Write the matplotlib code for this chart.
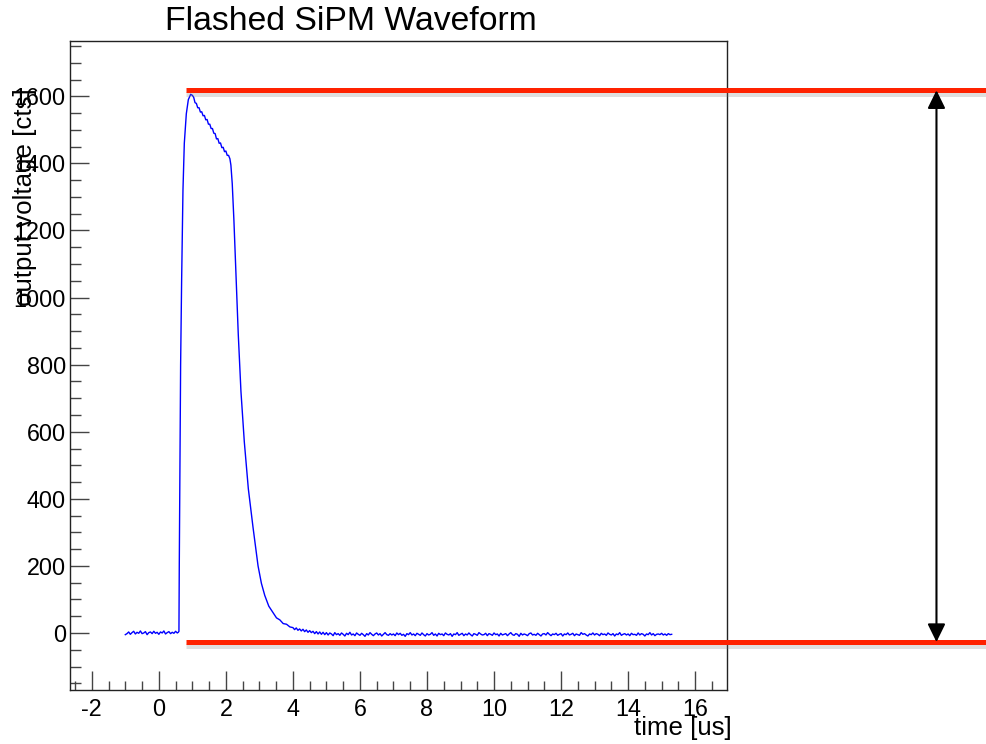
"""Flashed SiPM waveform, ROOT-style canvas with amplitude markers."""

import numpy as np
import matplotlib

matplotlib.use("Agg")
import matplotlib.pyplot as plt
import matplotlib.patheffects as pe
from matplotlib.ticker import MultipleLocator

plt.rcParams["font.family"] = ["Liberation Sans", "DejaVu Sans"]
plt.rcParams["axes.unicode_minus"] = False

# baseline before the flash, one sample every 0.05 us starting at -1.0 us
pre_start = -1.0
pre_vals = [-5, -2, 3, -4, 1, 5, -3, 2, -1, 6, -2, 0, 4, -5, 1, 3,
            -2, 5, -1, 2, -4, 3, 0, 6, -3, 1, 4, -2, 2, -1, 5, 0]

# the pulse itself [us], [cts]
pulse_t = [0.58, 0.60, 0.61, 0.63, 0.65, 0.68, 0.72, 0.76, 0.82, 0.88, 0.95,
           1.00, 1.04, 1.08, 1.12, 1.16, 1.20, 1.24, 1.28, 1.32, 1.36, 1.40,
           1.44, 1.48, 1.52, 1.56, 1.60, 1.64, 1.68, 1.72, 1.76, 1.80, 1.84,
           1.88, 1.92, 1.96, 2.00, 2.04, 2.08, 2.12,
           2.15, 2.19, 2.24, 2.30, 2.37, 2.45, 2.55, 2.67, 2.81, 2.96,
           3.06, 3.16, 3.28, 3.41, 3.51, 3.61, 3.71, 3.81, 3.91]
pulse_v = [2, 5, 200, 500, 800, 1050, 1320, 1460, 1548, 1590, 1606,
           1603, 1597, 1581, 1579, 1566, 1566, 1553, 1554, 1542, 1543, 1530,
           1531, 1517, 1517, 1504, 1504, 1490, 1489, 1473, 1474, 1460, 1461,
           1447, 1448, 1435, 1437, 1424, 1424, 1414,
           1395, 1340, 1230, 1074, 890, 720, 570, 430, 315, 200,
           148, 112, 80, 60, 45, 39, 28, 26, 18]

# tail after the pulse, one sample every 0.05 us starting at 4.0 us
tail_start = 4.0
tail_vals = [
    16, 10, 15, 8, 12, 6, 11, 4, 9, 2, 7, 1, 5, -2, 4, -3, 3, -4, 2, -5,
    1, -6, 0, -3, -8, 1, -5, -2, -7, 0, -4, -9, -1, -5, 2, -6, -3, -8, 0, -4,
    -7, -1, -5, -10, -2, -6, 1, -4, -8, -3, 0, -6, -2, -9, -4, 1, -5, -7, -2, -6,
    -3, -8, 0, -5, -1, -7, -4, -10, -2, -5, 1, -6, -3, -8, -1, -4, -7, 0, -5, -9,
    -2, -6, -4, 1, -7, -3, -9, -1, -5, -3, -8, 0, -4, -6, -2, -10, -3, -5, 1, -7,
    -4, -1, -8, -3, -6, 0, -5, -9, -2, -4, -7, 1, -3, -6, -5, -1, -8, -2, -4, -7,
    0, -5, -3, -9, -1, -6, -4, -2, -8, -3, 1, -5, -7, -2, -4, -10, -1, -6, -3, -5,
    -8, -2, 0, -6, -4, -7, -1, -5, -9, -3, -2, -6, 1, -4, -8, -3, -5, -1, -7, -4,
    -2, -9, -3, -5, 0, -6, -4, -1, -8, -3, -5, -7, 1, -4, -2, -6, -9, -3, -5, 0,
    -6, -2, -4, -8, -1, -5, -3, -7, 0, -4, -6, -2, -9, -3, -5, 1, -7, -4, -2, -6,
    -3, -8, -1, -5, -4, -7, 0, -6, -2, -4, -9, -3, -5, 1, -6, -2, -8, -4, -3, -5,
    -1, -6, -3, -7, -2, -5, -4,
]
sample_step = 0.05

# amplitude marker lines [cts] and their x extent [us]
level_top = 1618
level_bottom = -27
level_x = [0.8, 24.8]
arrow_x = 23.2

pre_t = pre_start + sample_step * np.arange(len(pre_vals))
tail_t = tail_start + sample_step * np.arange(len(tail_vals))
t = np.concatenate([pre_t, pulse_t, tail_t])
v = np.concatenate([pre_vals, pulse_v, tail_vals])

fig = plt.figure(figsize=(9.86, 7.44), dpi=100)
ax = fig.add_axes([0.071, 0.0726, 0.6663, 0.8723])

ax.plot(t, v, color="#0000ff", linewidth=1.0)

ax.set_xlim(-2.65, 16.95)
ax.set_ylim(-170, 1765)

ax.xaxis.set_major_locator(MultipleLocator(2))
ax.xaxis.set_minor_locator(MultipleLocator(0.5))
ax.yaxis.set_major_locator(MultipleLocator(200))
ax.yaxis.set_minor_locator(MultipleLocator(50))
ax.tick_params(which="both", direction="in", top=False, right=False, color="#444444", width=1.0)
ax.tick_params(axis="y", which="major", length=14, pad=3, labelsize=16.8)
ax.tick_params(axis="y", which="minor", length=8)
ax.tick_params(axis="x", which="major", length=13.5, pad=6, labelsize=16.8)
ax.tick_params(axis="x", which="minor", length=6.5)
for s in ax.spines.values():
    s.set_linewidth(1.0)
    s.set_color("#222222")

shadow = [pe.SimpleLineShadow(offset=(0.5, -3), shadow_color="gray", alpha=0.25), pe.Normal()]
for lvl in (level_top, level_bottom):
    ax.plot(level_x, [lvl, lvl], color="#ff2200", linewidth=3.6, clip_on=False,
            solid_capstyle="butt", path_effects=shadow, zorder=5)

ax.annotate("", xy=(arrow_x, level_top), xytext=(arrow_x, level_bottom),
            arrowprops=dict(arrowstyle="<|-|>,head_length=0.55,head_width=0.27",
                            mutation_scale=20, lw=1.5, color="black",
                            shrinkA=0, shrinkB=0),
            annotation_clip=False, zorder=6)

fig.text(351 / 986, 1 - 22 / 744, "Flashed SiPM Waveform", fontsize=24.3,
         ha="center", va="center")
fig.text(732 / 986, 9 / 744, "time [us]", fontsize=18.6, ha="right", va="baseline")
fig.text(25 / 986, 1 - 88 / 744, "output voltage [cts]", fontsize=18.6,
         rotation=90, ha="center", va="top")

fig.savefig("out.png", dpi=100)
